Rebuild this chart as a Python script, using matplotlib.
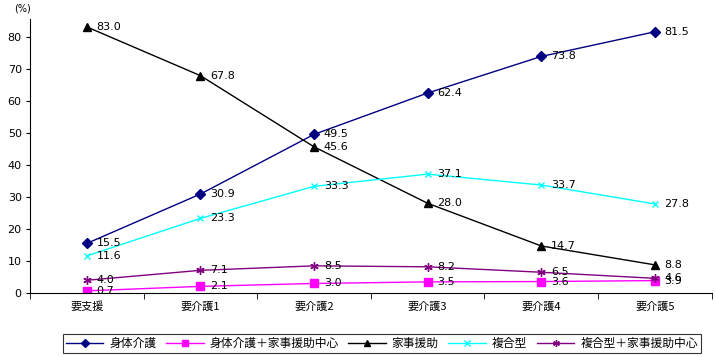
import numpy as np
import matplotlib.pyplot as plt

plt.rcParams['font.family'] = ['Noto Sans CJK JP', 'DejaVu Sans']

categories = ['要支援', '要介護1', '要介護2', '要介護3', '要介護4', '要介護5']
shintai = [15.5, 30.9, 49.5, 62.4, 73.8, 81.5]
shintai_kaji = [0.7, 2.1, 3.0, 3.5, 3.6, 3.9]
kaji = [83.0, 67.8, 45.6, 28.0, 14.7, 8.8]
fukugo = [11.6, 23.3, 33.3, 37.1, 33.7, 27.8]
fukugo_kaji = [4.0, 7.1, 8.5, 8.2, 6.5, 4.6]

names = ['身体介護', '身体介護＋家事援助中心', '家事援助', '複合型', '複合型＋家事援助中心']
series = [shintai, shintai_kaji, kaji, fukugo, fukugo_kaji]
colors = ['#000080', '#ff00ff', '#000000', '#00ffff', '#800080']
markers = ['D', 's', '^', 'x', (6, 2, 0)]
msizes = [5, 6, 6, 5, 6]

fig = plt.figure(figsize=(7.16, 3.57), dpi=100)
ax = fig.add_axes([0.042, 0.179, 0.952, 0.768])

x = np.arange(len(categories))
for vals, name, c, m, ms in zip(series, names, colors, markers, msizes):
	ax.plot(x, vals, color=c, lw=1, marker=m, ms=ms, mew=1, label=name)
	for xi, v in zip(x, vals):
		ax.annotate('%.1f' % v, (xi, v), xytext=(7, 0), textcoords='offset points',
			va='center', ha='left', fontsize=8, family='DejaVu Sans')

ax.set_xlim(-0.5, 5.5)
ax.set_ylim(0, 85.5)
ax.set_yticks(range(0, 81, 10))
ax.set_xticks(x)
ax.set_xticklabels(categories, fontsize=8)
ax.set_xticks(np.arange(-0.5, 6, 1), minor=True)
ax.tick_params(axis='x', which='major', length=0, pad=6)
ax.tick_params(axis='x', which='minor', length=4, direction='out')
ax.tick_params(axis='y', labelsize=8, length=3, direction='out', pad=3)
for lab in ax.get_yticklabels():
	lab.set_family('DejaVu Sans')
ax.spines['top'].set_visible(False)
ax.spines['right'].set_visible(False)

fig.text(0.02, 0.975, '(%)', fontsize=7, va='center', family='DejaVu Sans')

leg = ax.legend(loc='center', bbox_to_anchor=(0.516, -0.183), ncol=5, fontsize=8.5,
	frameon=True, fancybox=False, edgecolor='black', handlelength=3.2,
	columnspacing=0.8, handletextpad=0.5, borderpad=0.25, markerscale=0.8)
leg.get_frame().set_linewidth(0.8)

fig.savefig('out.png', dpi=100)
